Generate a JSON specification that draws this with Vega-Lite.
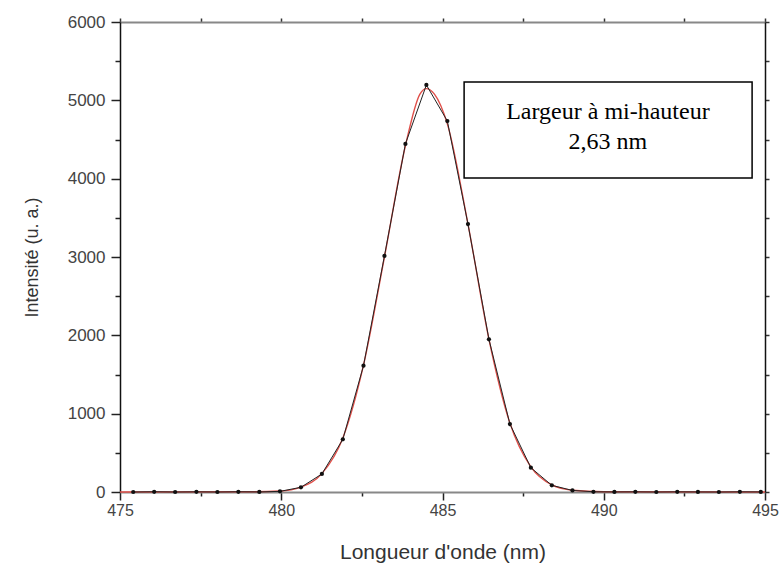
{
  "$schema": "https://vega.github.io/schema/vega-lite/v6.json",
  "width": 645,
  "height": 470,
  "autosize": {"type": "none"},
  "padding": {"left": 120, "top": 22, "right": 18, "bottom": 75},
  "background": "white",
  "config": {
    "view": {"stroke": null},
    "axis": {"grid": false, "labelFont": "Liberation Sans", "titleFont": "Liberation Sans", "labelColor": "#444", "titleColor": "#333", "titleFontWeight": "normal", "tickColor": "#222", "domainColor": "#222"}
  },
  "datasets": {
    "mesure": [
      {"lambda": 475.41, "intensite": 0},
      {"lambda": 476.06, "intensite": 3},
      {"lambda": 476.71, "intensite": 0},
      {"lambda": 477.37, "intensite": 2},
      {"lambda": 478.02, "intensite": 0},
      {"lambda": 478.67, "intensite": 3},
      {"lambda": 479.32, "intensite": 1},
      {"lambda": 479.96, "intensite": 8},
      {"lambda": 480.61, "intensite": 60},
      {"lambda": 481.26, "intensite": 230},
      {"lambda": 481.91, "intensite": 673},
      {"lambda": 482.55, "intensite": 1612},
      {"lambda": 483.2, "intensite": 3013},
      {"lambda": 483.85, "intensite": 4443},
      {"lambda": 484.5, "intensite": 5196},
      {"lambda": 485.15, "intensite": 4736},
      {"lambda": 485.79, "intensite": 3421},
      {"lambda": 486.44, "intensite": 1949},
      {"lambda": 487.09, "intensite": 868},
      {"lambda": 487.74, "intensite": 310},
      {"lambda": 488.39, "intensite": 85},
      {"lambda": 489.03, "intensite": 20},
      {"lambda": 489.68, "intensite": 3},
      {"lambda": 490.33, "intensite": 1},
      {"lambda": 490.98, "intensite": 2},
      {"lambda": 491.63, "intensite": 0},
      {"lambda": 492.28, "intensite": 2},
      {"lambda": 492.92, "intensite": 1},
      {"lambda": 493.57, "intensite": 0},
      {"lambda": 494.22, "intensite": 2},
      {"lambda": 494.87, "intensite": 1}
    ],
    "ajustement": [
      {"lambda": 475.0, "intensite": 0},
      {"lambda": 479.0, "intensite": 3},
      {"lambda": 479.96, "intensite": 12},
      {"lambda": 480.61, "intensite": 62},
      {"lambda": 481.26, "intensite": 235},
      {"lambda": 481.91, "intensite": 690},
      {"lambda": 482.55, "intensite": 1620},
      {"lambda": 483.2, "intensite": 3000},
      {"lambda": 483.85, "intensite": 4420},
      {"lambda": 484.3, "intensite": 5080},
      {"lambda": 484.5, "intensite": 5150},
      {"lambda": 484.75, "intensite": 5080},
      {"lambda": 485.15, "intensite": 4700},
      {"lambda": 485.79, "intensite": 3420},
      {"lambda": 486.44, "intensite": 1950},
      {"lambda": 487.09, "intensite": 880},
      {"lambda": 487.74, "intensite": 320},
      {"lambda": 488.39, "intensite": 90},
      {"lambda": 489.03, "intensite": 22},
      {"lambda": 490.0, "intensite": 3},
      {"lambda": 495.0, "intensite": 0}
    ],
    "cadre": [
      {"x1": 485.67, "x2": 494.6, "y1": 4009, "y2": 5234}
    ],
    "texte": [
      {"lambda": 490.13, "intensite": 4851, "ligne": "Largeur à mi-hauteur"},
      {"lambda": 490.13, "intensite": 4468, "ligne": "2,63 nm"}
    ]
  },
  "layer": [
    {
      "data": {"name": "ajustement"},
      "mark": {"type": "line", "color": "#e0504a", "strokeWidth": 1.4, "interpolate": "monotone"},
      "encoding": {
        "x": {"field": "lambda", "type": "quantitative", "scale": {"domain": [475, 495], "nice": false, "zero": false},
          "axis": {"orient": "top", "values": [475, 477.5, 480, 482.5, 485, 487.5, 490, 492.5, 495], "labels": false, "title": null, "domainColor": "#888", "domainWidth": 2, "tickSize": 4, "tickWidth": 1.5, "tickColor": "#333"}},
        "y": {"field": "intensite", "type": "quantitative", "scale": {"domain": [0, 6000], "nice": false},
          "axis": {"orient": "right", "values": [0, 500, 1000, 1500, 2000, 2500, 3000, 3500, 4000, 4500, 5000, 5500, 6000], "labels": false, "title": null, "domainColor": "#111", "domainWidth": 1.5, "tickSize": 4, "tickWidth": 1.5, "tickColor": "#333"}}
      }
    },
    {
      "data": {"name": "mesure"},
      "mark": {"type": "line", "color": "#222", "strokeWidth": 1, "point": {"filled": true, "color": "#111", "size": 18}},
      "encoding": {
        "x": {"field": "lambda", "type": "quantitative",
          "axis": {"orient": "bottom", "values": [475, 477.5, 480, 482.5, 485, 487.5, 490, 492.5, 495],
            "labelExpr": "datum.value % 5 === 0 ? format(datum.value, 'd') : ''",
            "tickSize": {"condition": {"test": "datum.value % 5 === 0", "value": 8}, "value": 4},
            "tickWidth": 1.5, "domainColor": "#888", "domainWidth": 2,
            "labelFontSize": 16, "labelPadding": 2, "labelFlush": false,
            "title": "Longueur d'onde (nm)", "titleFontSize": 21, "titlePadding": 23}},
        "y": {"field": "intensite", "type": "quantitative",
          "axis": {"orient": "left", "values": [0, 500, 1000, 1500, 2000, 2500, 3000, 3500, 4000, 4500, 5000, 5500, 6000],
            "labelExpr": "datum.value % 1000 === 0 ? format(datum.value, 'd') : ''",
            "tickSize": {"condition": {"test": "datum.value % 1000 === 0", "value": 9}, "value": 5},
            "tickWidth": 1.5, "domainColor": "#111", "domainWidth": 1.5,
            "labelFontSize": 17, "labelPadding": 6, "labelFlush": false,
            "title": "Intensité (u. a.)", "titleFontSize": 18, "titlePadding": 26}}
      }
    },
    {
      "data": {"name": "cadre"},
      "mark": {"type": "rect", "fill": "white", "stroke": "black", "strokeWidth": 1.5},
      "encoding": {
        "x": {"field": "x1", "type": "quantitative", "axis": null},
        "x2": {"field": "x2"},
        "y": {"field": "y1", "type": "quantitative", "axis": null},
        "y2": {"field": "y2"}
      }
    },
    {
      "data": {"name": "texte"},
      "mark": {"type": "text", "font": "Liberation Serif", "fontSize": 24, "color": "black", "align": "center", "baseline": "middle"},
      "encoding": {
        "x": {"field": "lambda", "type": "quantitative", "axis": null},
        "y": {"field": "intensite", "type": "quantitative", "axis": null},
        "text": {"field": "ligne"}
      }
    }
  ]
}
